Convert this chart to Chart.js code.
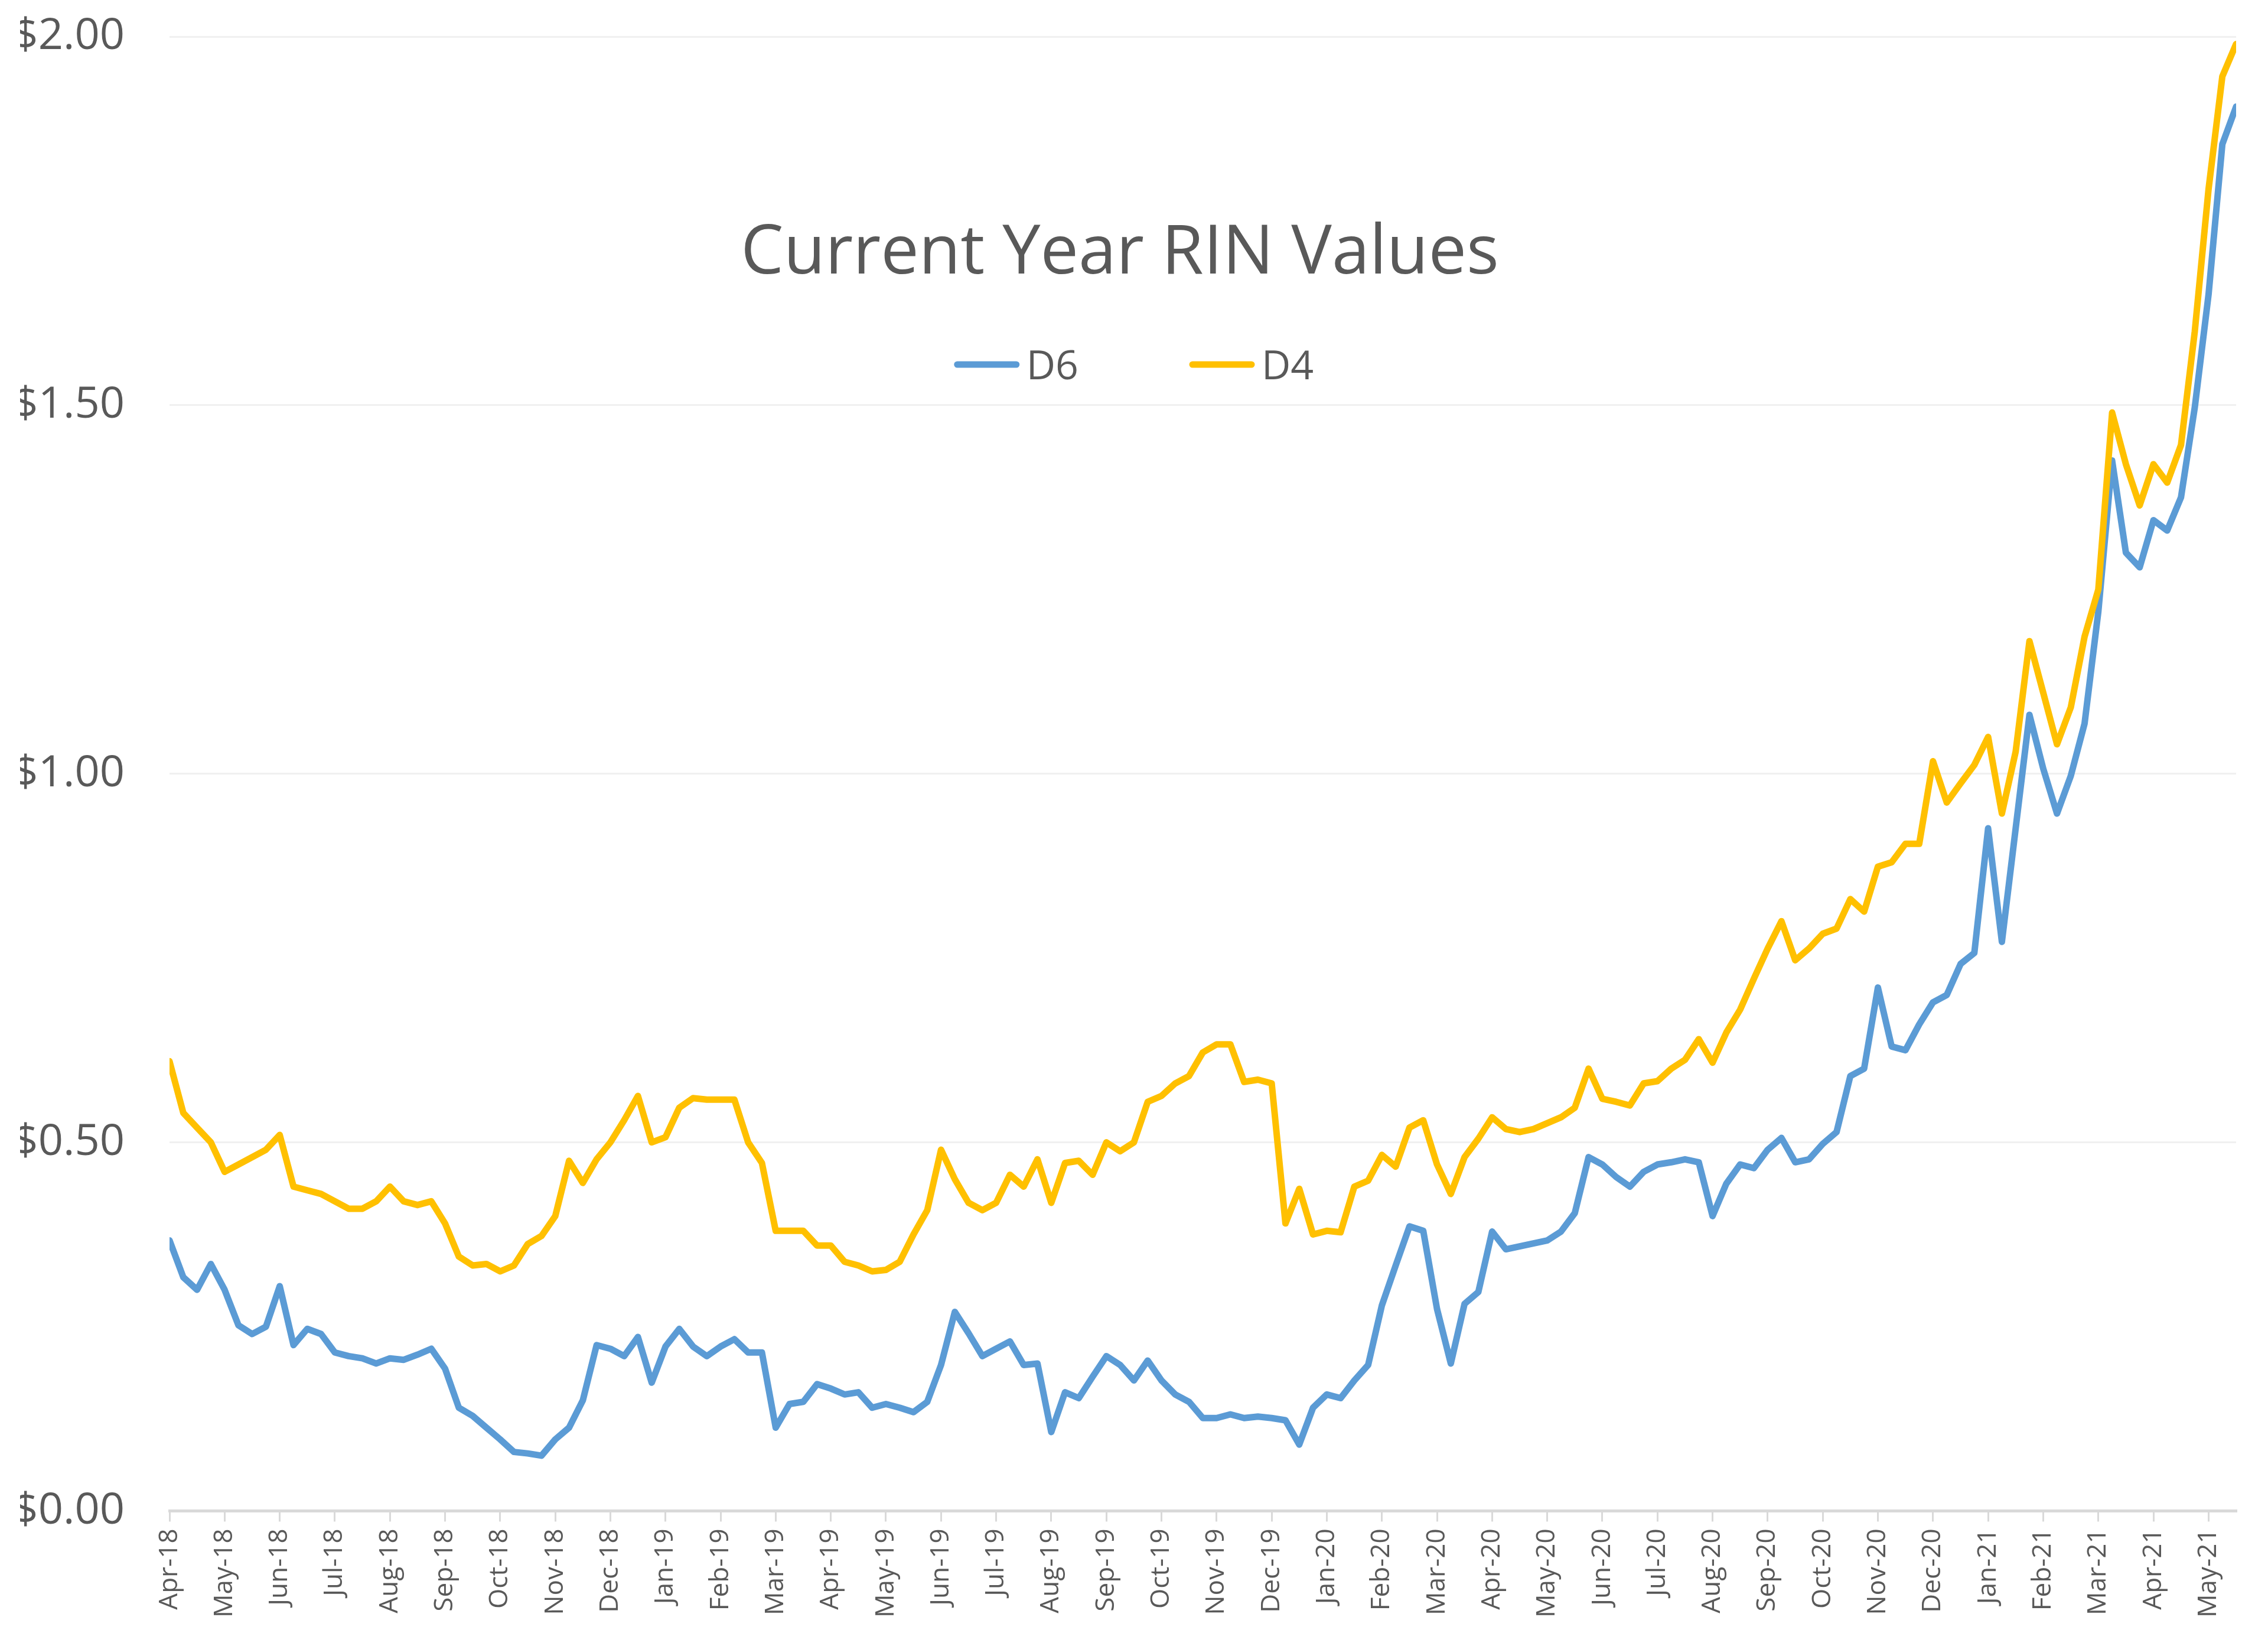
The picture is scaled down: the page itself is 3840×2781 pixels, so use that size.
<!DOCTYPE html>
<html>
<head>
<meta charset="utf-8">
<title>Current Year RIN Values</title>
<script src="https://cdn.jsdelivr.net/npm/chart.js@4.4.1/dist/chart.umd.min.js"></script>
<style>
  html, body { margin: 0; padding: 0; background: #fff; overflow: hidden; }
  #wrap { width: 3840px; height: 2781px; position: relative; }
</style>
</head>
<body>
<div id="wrap"><canvas id="rinChart"></canvas></div>
<script>
'use strict';

/**
 * data, one reading every quarter month from Apr-18
 */

const chartTitle = "Current Year RIN Values";

const monthLabels = [
  "Apr-18", "May-18", "Jun-18", "Jul-18", "Aug-18", "Sep-18", "Oct-18", "Nov-18", "Dec-18",
  "Jan-19", "Feb-19", "Mar-19", "Apr-19", "May-19", "Jun-19", "Jul-19", "Aug-19", "Sep-19",
  "Oct-19", "Nov-19", "Dec-19", "Jan-20", "Feb-20", "Mar-20", "Apr-20", "May-20", "Jun-20",
  "Jul-20", "Aug-20", "Sep-20", "Oct-20", "Nov-20", "Dec-20", "Jan-21", "Feb-21", "Mar-21",
  "Apr-21", "May-21"
];

const stepMonths = 0.25; // spacing of the readings below, in months

const d6Values = [
  0.367, 0.317, 0.300, 0.335, 0.300, 0.252, 0.240, 0.250, 0.305, 0.225, 0.247, 0.240,
  0.215, 0.210, 0.207, 0.200, 0.207, 0.205, 0.212, 0.220, 0.193, 0.140, 0.129, 0.113,
  0.097, 0.080, 0.078, 0.075, 0.097, 0.113, 0.150, 0.225, 0.220, 0.210, 0.236, 0.174,
  0.223, 0.247, 0.223, 0.210, 0.223, 0.233, 0.215, 0.215, 0.113, 0.145, 0.148, 0.172,
  0.166, 0.158, 0.161, 0.140, 0.145, 0.140, 0.134, 0.148, 0.198, 0.270, 0.241, 0.210,
  0.220, 0.230, 0.198, 0.200, 0.107, 0.161, 0.153, 0.182, 0.210, 0.198, 0.177, 0.204,
  0.177, 0.158, 0.148, 0.126, 0.126, 0.131, 0.126, 0.128, 0.126, 0.123, 0.090, 0.140,
  0.158, 0.153, 0.177, 0.198, 0.279, 0.333, 0.386, 0.380, 0.274, 0.200, 0.281, 0.297,
  0.379, 0.355, 0.359, 0.363, 0.367, 0.379, 0.404, 0.480, 0.470, 0.453, 0.440, 0.460,
  0.470, 0.473, 0.477, 0.473, 0.400, 0.444, 0.470, 0.465, 0.490, 0.506, 0.473, 0.477,
  0.498, 0.514, 0.590, 0.600, 0.710, 0.630, 0.625, 0.660, 0.690, 0.700, 0.742, 0.757,
  0.926, 0.772, 0.926, 1.080, 1.007, 0.946, 0.997, 1.068, 1.220, 1.425, 1.300, 1.280,
  1.344, 1.330, 1.375, 1.497, 1.650, 1.854, 1.905
];

const d4Values = [
  0.610, 0.540, 0.520, 0.500, 0.460, 0.470, 0.480, 0.490, 0.510, 0.440, 0.435, 0.430,
  0.420, 0.410, 0.410, 0.420, 0.440, 0.420, 0.415, 0.420, 0.390, 0.345, 0.333, 0.335,
  0.325, 0.333, 0.362, 0.373, 0.400, 0.475, 0.445, 0.477, 0.500, 0.530, 0.563, 0.500,
  0.507, 0.547, 0.560, 0.558, 0.558, 0.558, 0.500, 0.472, 0.380, 0.380, 0.380, 0.360,
  0.360, 0.338, 0.333, 0.325, 0.327, 0.338, 0.375, 0.408, 0.490, 0.450, 0.418, 0.408,
  0.418, 0.456, 0.440, 0.477, 0.418, 0.472, 0.475, 0.456, 0.500, 0.488, 0.500, 0.555,
  0.563, 0.580, 0.590, 0.622, 0.633, 0.633, 0.582, 0.585, 0.580, 0.390, 0.437, 0.375,
  0.380, 0.378, 0.440, 0.448, 0.483, 0.467, 0.520, 0.530, 0.470, 0.430, 0.480, 0.505,
  0.534, 0.518, 0.514, 0.518, 0.526, 0.534, 0.547, 0.600, 0.559, 0.555, 0.550, 0.580,
  0.583, 0.600, 0.612, 0.640, 0.608, 0.649, 0.680, 0.722, 0.763, 0.800, 0.747, 0.763,
  0.783, 0.790, 0.830, 0.813, 0.874, 0.880, 0.905, 0.905, 1.017, 0.961, 0.987, 1.012,
  1.050, 0.946, 1.030, 1.180, 1.110, 1.040, 1.090, 1.186, 1.250, 1.490, 1.420, 1.364,
  1.420, 1.395, 1.446, 1.600, 1.793, 1.946, 1.990
];

const yTicks = [0, 0.5, 1, 1.5, 2];

const toPoints = (values) => values.map((v, i) => ({ x: i * stepMonths, y: v }));

/**
 * title and legend sit inside the plot area, like the original
 */

const overlayTitleLegend = {
  id: "overlayTitleLegend",
  afterDraw(chart) {
    const ctx = chart.ctx;
    const cx = chart.width / 2;
    ctx.save();
    ctx.fillStyle = "#595959";
    ctx.textBaseline = "alphabetic";

    ctx.textAlign = "center";
    ctx.font = "115px 'Open Sans', sans-serif";
    ctx.fillText(chartTitle, cx - 24, 463);

    ctx.textAlign = "left";
    ctx.font = "68px 'Open Sans', sans-serif";
    const swatch = 110, gapText = 12, gapItem = 188;
    const items = chart.data.datasets.map(ds => ({
      text: ds.label,
      color: ds.borderColor,
      w: swatch + gapText + ctx.measureText(ds.label).width
    }));
    const total = items.reduce((s, it) => s + it.w, 0) + gapItem * (items.length - 1);
    let x = cx - total / 2;
    items.forEach(it => {
      ctx.strokeStyle = it.color;
      ctx.lineWidth = 11;
      ctx.lineCap = "round";
      ctx.beginPath();
      ctx.moveTo(x + 5, 617);
      ctx.lineTo(x + swatch - 5, 617);
      ctx.stroke();
      ctx.fillText(it.text, x + swatch + gapText, 642);
      x += it.w + gapItem;
    });
    ctx.restore();
  }
};

Chart.defaults.font.family = "'Open Sans', sans-serif";
Chart.defaults.color = "#595959";

new Chart("rinChart", {
  type: "line",
  data: {
    datasets: [{
      label: "D6",
      data: toPoints(d6Values),
      borderColor: "#5b9bd5",
      borderWidth: 11,
      pointRadius: 0,
      borderJoinStyle: "round",
      borderCapStyle: "round",
      order: 1
    }, {
      label: "D4",
      data: toPoints(d4Values),
      borderColor: "#ffc000",
      borderWidth: 11,
      pointRadius: 0,
      borderJoinStyle: "round",
      borderCapStyle: "round",
      order: 0
    }]
  },
  options: {
    responsive: true,
    maintainAspectRatio: false,
    animation: false,
    layout: { padding: { left: 34, right: 54, top: 62, bottom: 31 } },
    plugins: {
      legend: { display: false },
      title: { display: false },
      tooltip: { enabled: false }
    },
    scales: {
      x: {
        type: "linear",
        min: 0,
        max: (d6Values.length - 1) * stepMonths,
        grid: { drawOnChartArea: false, drawTicks: true, tickLength: 18, color: "#d9d9d9", lineWidth: 3 },
        border: { display: true, color: "#d9d9d9", width: 5 },
        ticks: {
          stepSize: 1,
          includeBounds: false,
          autoSkip: false,
          minRotation: 90,
          maxRotation: 90,
          padding: 12,
          font: { size: 44 },
          callback: (value) => Number.isInteger(value) ? (monthLabels[value] || "") : ""
        }
      },
      y: {
        min: yTicks[0],
        max: yTicks[yTicks.length - 1],
        afterBuildTicks: (scale) => { scale.ticks = yTicks.map(v => ({ value: v })); },
        // fixed axis width, and no extra room above the $2.00 line
        afterFit: (scale) => {
          scale.width = 253;
          scale.paddingTop = 0;
          scale.paddingBottom = 0;
        },
        grid: { color: "#f0f0f0", lineWidth: 3, drawTicks: false },
        border: { display: false },
        ticks: {
          padding: 76,
          font: { size: 74 },
          callback: (value) => "$" + Number(value).toFixed(2)
        }
      }
    }
  },
  plugins: [overlayTitleLegend]
});
</script>
</body>
</html>
